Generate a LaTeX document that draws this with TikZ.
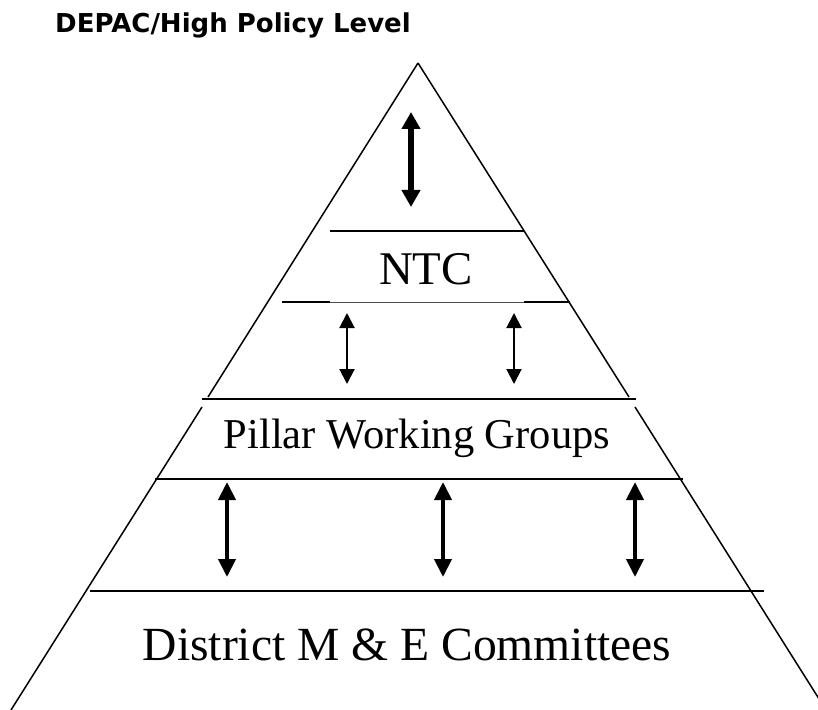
\documentclass[tikz,border=0pt]{standalone}
\usepackage{fontspec}
\setmainfont{Liberation Serif}
\newfontfamily\titlefont{DejaVu Sans}
\usetikzlibrary{arrows.meta}

\begin{document}
\begin{tikzpicture}[x=0.03cm, y=-0.03cm,
		side/.style={line width=0.045cm},
		level/.style={line width=0.06cm},
		thinlevel/.style={line width=0.03cm, black!70},
		label/.style={anchor=base, inner sep=0pt},
		toparrow/.style={line width=0.17cm, {Triangle[length=0.51cm,width=0.54cm]}-{Triangle[length=0.51cm,width=0.54cm]}},
		bigarrow/.style={line width=0.12cm, {Triangle[length=0.54cm,width=0.51cm]}-{Triangle[length=0.54cm,width=0.51cm]}},
		smallarrow/.style={line width=0.06cm, {Triangle[length=0.45cm,width=0.45cm]}-{Triangle[length=0.45cm,width=0.45cm]}}]
		\useasboundingbox (0,0) rectangle (818,710);
		\clip (0,0) rectangle (818,710);

		% Title
		\node[anchor=base west, inner sep=0pt, font=\titlefont\bfseries\fontsize{22.2}{26}\selectfont] (title) at (55,33) {DEPAC/High Policy Level};

		% Pyramid sides
		\coordinate (apex) at (418,63);
		\coordinate (bl) at (11,710);
		\coordinate (br) at (826,710);
		\draw[side] (apex) -- (208,397);
		\draw[side] (202,407) -- (bl);
		\draw[side] (apex) -- (629,397);
		\draw[side] (635,407) -- (br);

		% Level lines
		\draw[level] (330,231) -- (524,231);
		\draw[level] (282,302) -- (330,302);
		\draw[thinlevel] (330,302) -- (524,302);
		\draw[level] (524,302) -- (570,302);
		\draw[level] (202,399) -- (636,399);
		\draw[level] (155,479) -- (683,479);
		\draw[level] (90,591) -- (764,591);

		% Level names
		\node[label, font=\fontsize{40}{44}\selectfont] (ntc) at (426,285) {NTC};
		\node[label, font=\fontsize{36.3}{40}\selectfont] (pwg) at (417,448) {Pillar Working Groups};
		\node[label, font=\fontsize{40.6}{44}\selectfont] (dmec) at (407,660) {District M \& E Committees};

		% Links between levels
		\coordinate (hpltop) at (411,112);
		\coordinate (hplbot) at (411,207);
		\draw[toparrow] (hpltop) -- (hplbot);

		\foreach \x in {347,514}{
			\coordinate (ntcdown\x) at (\x,313);
			\coordinate (pwgup\x) at (\x,384);
			\draw[smallarrow] (ntcdown\x) -- (pwgup\x);
		}

		\foreach \x in {227,443,635}{
			\coordinate (pwgdown\x) at (\x,482);
			\coordinate (dmecup\x) at (\x,577);
			\draw[bigarrow] (pwgdown\x) -- (dmecup\x);
		}
	\end{tikzpicture}
\end{document}
